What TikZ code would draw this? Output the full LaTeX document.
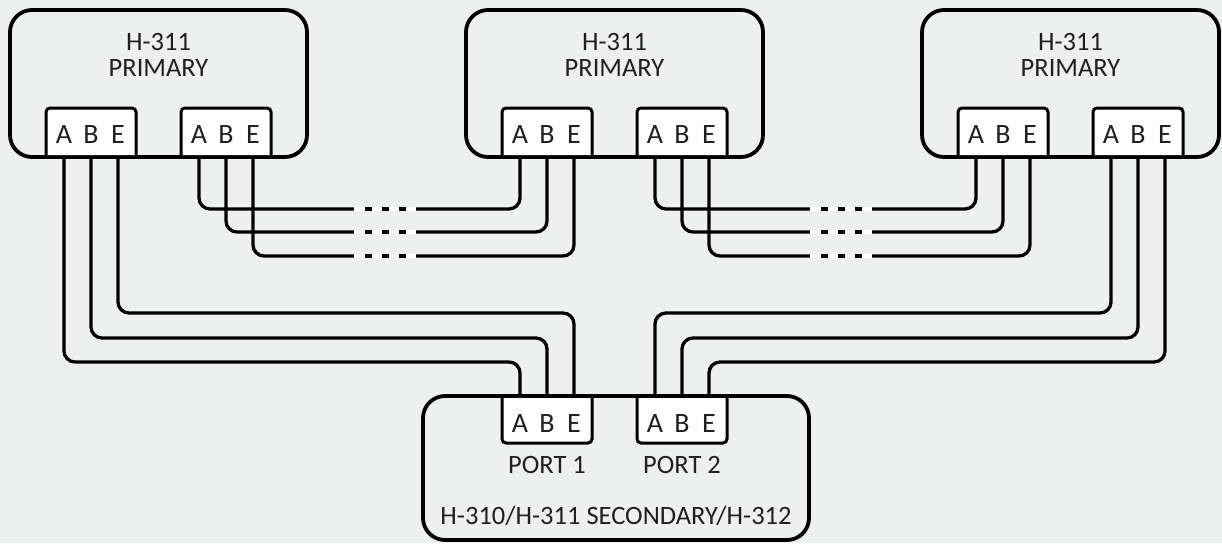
\documentclass[tikz,border=0pt]{standalone}
\usepackage{fontspec}
\setmainfont{Carlito}
\definecolor{bg}{RGB}{238,240,239}
\definecolor{txtc}{RGB}{35,31,32}
\begin{document}
\begin{tikzpicture}[x=1pt,y=-1pt,
  font=\fontsize{26.5}{27}\selectfont,
  unit/.style={draw=black, line width=3.8pt, rounded corners=22pt, fill=bg, inner sep=0pt, outer sep=0pt},
  portnode/.style={inner sep=0pt, outer sep=0pt, minimum width=90pt, draw=none},
  portline/.style={fill=white, draw=black, line width=3pt, rounded corners=4pt},
  txt/.style={text=txtc, inner sep=0pt},
  pin/.style={txt, font=\fontsize{28}{28}\selectfont},
  wire/.style={draw=black, line width=3.3pt, rounded corners=11pt},
  gapw/.style={draw=white, line width=3.3pt},
  gapd/.style={draw=black, line width=3.3pt, dash pattern=on 6.5pt off 10.5pt}]
\fill[bg] (0,0) rectangle (1222,543);
\useasboundingbox (0,0) rectangle (1222,543);

% top units
\foreach \u/\x in {1/10, 2/466, 3/922} {
  \node[unit, anchor=north west, minimum width=297pt, minimum height=147pt] (T\u) at (\x,10) {};
  \node[txt, anchor=base] (T\u-t1) at (\x+148.5,51) {H-311};
  \node[txt, anchor=base] (T\u-t2) at (\x+148.5,77) {PRIMARY};
  \foreach \p/\o in {1/36, 2/171} {
    \pgfmathsetmacro\l{\x+\o}
    \node[portnode, anchor=south west, minimum height=47pt] (T\u-p\p) at (\l,155) {};
    \path[portline] (T\u-p\p.south west) -- (T\u-p\p.north west) -- (T\u-p\p.north east) -- (T\u-p\p.south east);
    \foreach \k/\d in {A/18, B/45, E/72} {
      \coordinate (T\u-p\p-\k) at (\l+\d,157);
      \node[pin, anchor=base] (T\u-p\p-l\k) at (\l+\d,143) {\k};
    }
  }
}

% bottom unit
\node[unit, anchor=north west, minimum width=386pt, minimum height=144pt] (B) at (423,396) {};
\foreach \p/\l in {1/502, 2/637} {
  \node[portnode, anchor=north west, minimum height=45pt] (B-p\p) at (\l,398) {};
  \path[portline] (B-p\p.north west) -- (B-p\p.south west) -- (B-p\p.south east) -- (B-p\p.north east);
  \foreach \k/\d in {A/18, B/45, E/72} {
    \coordinate (B-p\p-\k) at (\l+\d,396);
    \node[pin, anchor=base] (B-p\p-l\k) at (\l+\d,432) {\k};
  }
  \node[txt, anchor=base] (B-p\p-name) at (\l+45,473) {PORT \p};
}
\node[txt, anchor=base] (B-name) at (616,524) {H-310/H-311 SECONDARY/H-312};

% wires: unit 1 port 1 -> bottom port 1
\foreach \k/\y in {E/313, B/338, A/362} {
  \draw[wire] (T1-p1-\k) -- (T1-p1-\k |- 0,\y) -- (B-p1-\k |- 0,\y) -- (B-p1-\k);
}
% unit 3 port 2 -> bottom port 2
\foreach \k/\y in {A/313, B/338, E/362} {
  \draw[wire] (T3-p2-\k) -- (T3-p2-\k |- 0,\y) -- (B-p2-\k |- 0,\y) -- (B-p2-\k);
}
% unit 1 port 2 -> unit 2 port 1, unit 2 port 2 -> unit 3 port 1
\foreach \k/\y in {A/209, B/232, E/256} {
  \draw[wire] (T1-p2-\k) -- (T1-p2-\k |- 0,\y) -- (T2-p1-\k |- 0,\y) -- (T2-p1-\k);
  \draw[wire] (T2-p2-\k) -- (T2-p2-\k |- 0,\y) -- (T3-p1-\k |- 0,\y) -- (T3-p1-\k);
  \foreach \s in {0, 456} {
    \draw[gapw] (354+\s,\y) -- (416+\s,\y);
    \draw[gapd] (365+\s,\y) -- (405.5+\s,\y);
  }
}
\end{tikzpicture}
\end{document}
